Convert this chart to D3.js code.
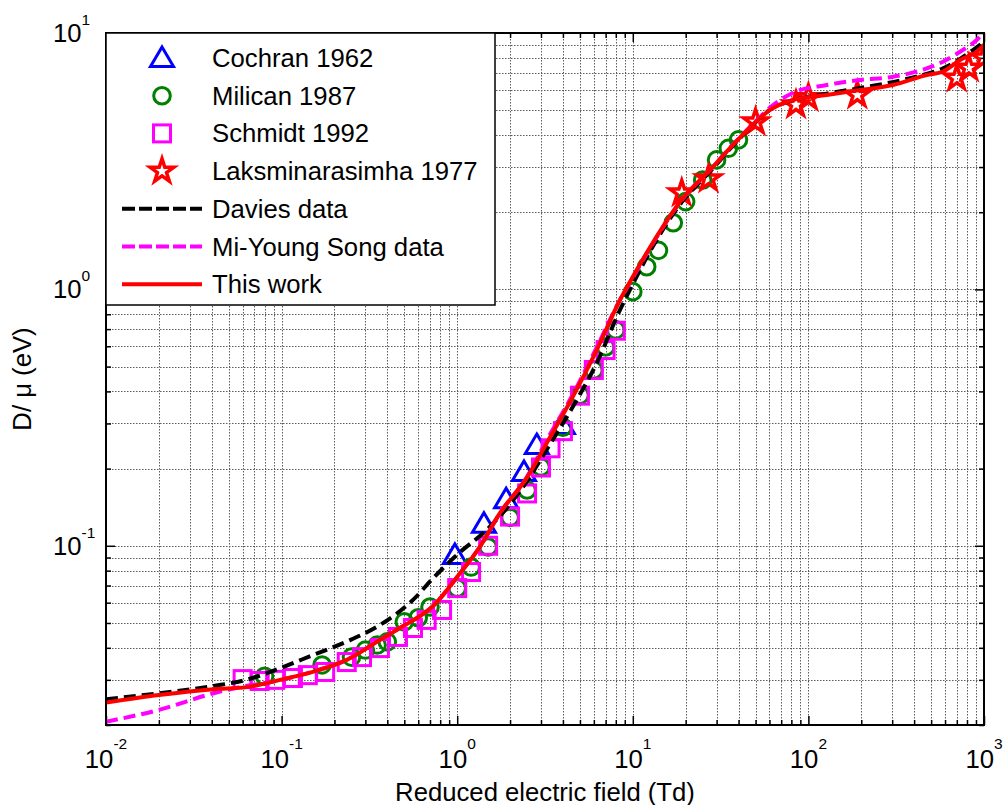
<!DOCTYPE html>
<html>
<head>
<meta charset="utf-8">
<script src="https://cdn.jsdelivr.net/npm/d3@7"></script>
<style>
  body { margin: 0; background: #fff; }
  svg { display: block; }
  text { font-family: "Liberation Sans", Arial, sans-serif; fill: #000; }
</style>
</head>
<body>
<svg id="chart" width="1004" height="805"></svg>
<script>
// Measured points: reduced electric field E/N (Td) and characteristic energy D/mu (eV)
const cochranX = [0.97, 1.42, 1.9, 2.4, 2.84, 4.0];
const cochranY = [0.092, 0.122, 0.152, 0.194, 0.247, 0.296];

const milicanX = [0.08, 0.17, 0.25, 0.3, 0.35, 0.4, 0.5, 0.6, 0.7, 1.0, 1.2, 1.5, 2.0, 2.5, 3.0, 4, 5, 6, 7, 8, 10, 12, 14, 17, 20, 25, 30, 35, 40];
const milicanY = [0.031, 0.0343, 0.0368, 0.0392, 0.041, 0.0422, 0.0505, 0.0524, 0.0577, 0.0684, 0.0826, 0.0989, 0.129, 0.165, 0.203, 0.29, 0.387, 0.485, 0.596, 0.695, 0.98, 1.226, 1.42, 1.82, 2.2, 2.67, 3.2, 3.55, 3.83];

const schmidtX = [0.06, 0.075, 0.092, 0.116, 0.141, 0.177, 0.235, 0.287, 0.363, 0.46, 0.56, 0.67, 0.82, 1.0, 1.2, 1.5, 2.0, 2.5, 3.0, 3.4, 4.0, 5.0, 6.0, 7.0, 8.0];
const schmidtY = [0.0302, 0.0297, 0.030, 0.0305, 0.0313, 0.0322, 0.0352, 0.0368, 0.0399, 0.0441, 0.0478, 0.0514, 0.0562, 0.0684, 0.079, 0.1, 0.13, 0.16, 0.202, 0.24, 0.28, 0.385, 0.485, 0.58, 0.69];

const laksX = [19, 27, 50, 85, 100, 190, 700, 820, 1000];
const laksY = [2.38, 2.7, 4.5, 5.25, 5.6, 5.73, 6.67, 7.3, 8.0];

const daviesX = [0.01, 0.02, 0.041, 0.063, 0.098, 0.151, 0.235, 0.363, 0.56, 0.73, 0.97, 1.54, 2.49, 3.23, 4.56, 6.23, 8.45, 10, 13, 19.3, 27.5, 37, 53, 60, 82, 127, 197, 379, 584, 865, 1000];
const daviesY = [0.0252, 0.0266, 0.0284, 0.030, 0.0333, 0.0375, 0.0423, 0.0491, 0.0615, 0.0748, 0.0906, 0.119, 0.178, 0.237, 0.349, 0.516, 0.832, 1.05, 1.47, 2.22, 2.88, 3.62, 4.65, 5.0, 5.47, 5.8, 6.1, 6.67, 7.28, 8.58, 9.25];

const songX = [0.01, 0.02, 0.041, 0.058, 0.1, 0.15, 0.235, 0.36, 0.47, 0.73, 1.04, 1.35, 1.75, 2.5, 3.2, 4.56, 6.2, 8.45, 10, 13, 19.3, 27.5, 37, 53, 60, 82, 127, 197, 303, 472, 584, 730, 908, 1000];
const songY = [0.0206, 0.0229, 0.0266, 0.0281, 0.030, 0.0323, 0.0359, 0.0429, 0.0478, 0.0582, 0.0783, 0.0993, 0.134, 0.186, 0.255, 0.39, 0.59, 0.91, 1.11, 1.51, 2.26, 2.92, 3.66, 4.7, 5.1, 5.85, 6.27, 6.56, 6.75, 7.28, 7.73, 8.45, 9.39, 10.1];

const workX = [0.01, 0.02, 0.041, 0.063, 0.098, 0.152, 0.235, 0.363, 0.472, 0.728, 1.04, 1.35, 1.75, 2.49, 3.23, 4.56, 6.23, 8.45, 10, 13, 19.3, 27.5, 37.2, 53, 60.4, 81.7, 127, 197, 303, 472, 584, 730, 908, 1000];
const workY = [0.0245, 0.0262, 0.0276, 0.0281, 0.030, 0.0323, 0.0359, 0.0429, 0.0478, 0.0582, 0.0783, 0.0993, 0.134, 0.184, 0.251, 0.382, 0.58, 0.909, 1.12, 1.52, 2.27, 2.92, 3.66, 4.66, 5.01, 5.48, 5.73, 5.99, 6.27, 6.86, 7.07, 7.85, 8.45, 8.98];

const xTickExponents = [-2, -1, 0, 1, 2, 3];
const yTickExponents = [-1, 0, 1];
const legendLabels = ["Cochran 1962", "Milican 1987", "Schmidt 1992", "Laksminarasimha 1977", "Davies data", "Mi-Young Song data", "This work"];

const FONT = 25.7;
const svg = d3.select("#chart");
const L = 106, R = 984, T = 33, B = 725;

const x = d3.scaleLog().domain([0.01, 1000]).range([L, R]);
const y = d3.scaleLog().domain([0.02, 10]).range([B, T]);

// every 1..9 multiple of each decade inside a domain
function logSteps(domain) {
  const out = [];
  const lo = Math.floor(Math.log10(domain[0])), hi = Math.ceil(Math.log10(domain[1]));
  for (let e = lo; e <= hi; e++) {
    for (let k = 1; k <= 9; k++) {
      const v = k * Math.pow(10, e);
      if (v >= domain[0] * 0.9999 && v <= domain[1] * 1.0001) out.push(v);
    }
  }
  return out;
}
const xAll = logSteps(x.domain());
const yAll = logSteps(y.domain());
const isMajor = v => Math.abs(Math.log10(v) - Math.round(Math.log10(v))) < 1e-9;
const xMinor = xAll.filter(v => !isMajor(v)), xMajor = xAll.filter(isMajor);
const yMinor = yAll.filter(v => !isMajor(v)), yMajor = yAll.filter(isMajor);

// dotted grid
const grid = svg.append("g").attr("class", "grid")
  .attr("stroke", "#333").attr("stroke-width", 1).attr("stroke-dasharray", "1.5 1.5").attr("opacity", 0.8);
grid.selectAll("line.gx").data(xAll.filter(v => v > x.domain()[0] && v < x.domain()[1]))
  .join("line").attr("class", "gx")
  .attr("x1", d => Math.round(x(d)) + 0.5).attr("x2", d => Math.round(x(d)) + 0.5)
  .attr("y1", T).attr("y2", B);
grid.selectAll("line.gy").data(yAll.filter(v => v > y.domain()[0] && v < y.domain()[1]))
  .join("line").attr("class", "gy")
  .attr("y1", d => Math.round(y(d)) + 0.5).attr("y2", d => Math.round(y(d)) + 0.5)
  .attr("x1", L).attr("x2", R);

// inward ticks on all four sides
function tickAxis(axisFn, scale, values, size, transform) {
  const g = svg.append("g").attr("transform", transform)
    .call(axisFn(scale).tickValues(values).tickSize(-size).tickFormat(""));
  g.select(".domain").remove();
  g.selectAll(".tick line").attr("stroke", "#000").attr("stroke-width", 1.5);
  return g;
}
tickAxis(d3.axisBottom, x, xMajor, 9, `translate(0,${B})`);
tickAxis(d3.axisBottom, x, xMinor, 5, `translate(0,${B})`);
tickAxis(d3.axisTop, x, xMajor, 9, `translate(0,${T})`);
tickAxis(d3.axisTop, x, xMinor, 5, `translate(0,${T})`);
tickAxis(d3.axisLeft, y, yMajor, 9, `translate(${L},0)`);
tickAxis(d3.axisLeft, y, yMinor, 5, `translate(${L},0)`);
tickAxis(d3.axisRight, y, yMajor, 9, `translate(${R},0)`);
tickAxis(d3.axisRight, y, yMinor, 5, `translate(${R},0)`);

// plot clip
svg.append("defs").append("clipPath").attr("id", "plotClip")
  .append("rect").attr("x", L).attr("y", T).attr("width", R - L).attr("height", B - T);

const plot = svg.append("g").attr("clip-path", "url(#plotClip)");

// marker shapes
const triPath = "M0,-11 L11.5,8.5 L-11.5,8.5 Z";
const starPath = d3.symbol().type(d3.symbolStar).size(175)();

function markers(xs, ys, draw) {
  const pts = xs.map((v, i) => [v, ys[i]]);
  const g = plot.append("g");
  pts.forEach(p => draw(g.append("g").attr("transform", `translate(${x(p[0])},${y(p[1])})`)));
}
const drawTri = g => g.append("path").attr("d", triPath).attr("fill", "none").attr("stroke", "#0000ff").attr("stroke-width", 3);
const drawCircle = g => g.append("circle").attr("r", 8.3).attr("fill", "none").attr("stroke", "#008000").attr("stroke-width", 3);
const drawSquare = g => g.append("rect").attr("x", -8.5).attr("y", -8.5).attr("width", 17).attr("height", 17).attr("fill", "none").attr("stroke", "#ff00ff").attr("stroke-width", 3);
const drawStar = g => g.append("path").attr("d", starPath).attr("fill", "none").attr("stroke", "#ff0000").attr("stroke-width", 3.5).attr("stroke-linejoin", "miter");

markers(cochranX, cochranY, drawTri);
markers(milicanX, milicanY, drawCircle);
markers(schmidtX, schmidtY, drawSquare);
markers(laksX, laksY, drawStar);

const line = d3.line().x(d => x(d[0])).y(d => y(d[1])).curve(d3.curveMonotoneX);
function series(xs, ys, color, dash) {
  plot.append("path").datum(xs.map((v, i) => [v, ys[i]]))
    .attr("d", line).attr("fill", "none").attr("stroke", color).attr("stroke-width", 4)
    .attr("stroke-dasharray", dash).attr("stroke-linejoin", "round");
}
series(daviesX, daviesY, "#000000", "12 6");
series(songX, songY, "#ff00ff", "12 6");
series(workX, workY, "#ff0000", null);

// frame
svg.append("rect").attr("x", L).attr("y", T).attr("width", R - L).attr("height", B - T)
  .attr("fill", "none").attr("stroke", "#000").attr("stroke-width", 2);

// tick labels with superscript exponents
const xl = svg.append("g").attr("font-size", FONT);
xTickExponents.forEach(e => {
  const t = xl.append("text").attr("x", x(Math.pow(10, e))).attr("y", 768).attr("text-anchor", "middle");
  t.append("tspan").text("10");
  t.append("tspan").attr("dy", -19).attr("font-size", 15.5).text(String(e));
});
const yl = svg.append("g").attr("font-size", FONT);
yTickExponents.forEach(e => {
  const t = yl.append("text").attr("x", 53).attr("y", y(Math.pow(10, e)) + 9).attr("text-anchor", "start");
  t.append("tspan").text("10");
  t.append("tspan").attr("dy", -17).attr("font-size", 15.5).text(String(e));
});

// axis titles
svg.append("text").attr("x", (L + R) / 2).attr("y", 801).attr("text-anchor", "middle")
  .attr("font-size", FONT).text("Reduced electric field (Td)");
svg.append("text").attr("transform", `translate(31,${(T + B) / 2}) rotate(-90)`)
  .attr("text-anchor", "middle").attr("font-size", FONT).text("D/ \u03bc (eV)");

// legend
const lg = svg.append("g");
lg.append("rect").attr("x", L).attr("y", T).attr("width", 389).attr("height", 272)
  .attr("fill", "#fff").attr("stroke", "#000").attr("stroke-width", 1.5);
const rowY = i => 58 + i * 37.7;
legendLabels.forEach((lab, i) => {
  const cy = rowY(i);
  const mg = lg.append("g").attr("transform", `translate(162,${cy})`);
  if (i === 0) drawTri(mg);
  else if (i === 1) drawCircle(mg);
  else if (i === 2) drawSquare(mg);
  else if (i === 3) drawStar(mg);
  else {
    const col = ["#000000", "#ff00ff", "#ff0000"][i - 4];
    lg.append("line").attr("x1", 122).attr("x2", 202).attr("y1", cy).attr("y2", cy)
      .attr("stroke", col).attr("stroke-width", 4).attr("stroke-dasharray", i < 6 ? "13 4" : null);
  }
  lg.append("text").attr("x", 212).attr("y", cy + 9).attr("font-size", FONT).text(lab);
});
</script>
</body>
</html>
